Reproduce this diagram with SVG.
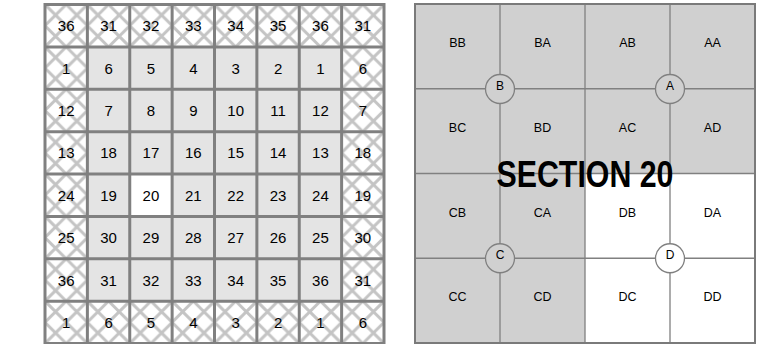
<svg xmlns="http://www.w3.org/2000/svg" width="771" height="344" viewBox="0 0 771 344">
<defs>
<pattern id="hatch" patternUnits="userSpaceOnUse" x="45" y="4.5" width="42.375" height="42.375">
<path d="M21.1875 0 L42.375 21.1875 L21.1875 42.375 L0 21.1875 Z M0 0 L42.375 42.375 M42.375 0 L0 42.375" fill="none" stroke="#c4c4c4" stroke-width="3"/>
</pattern>
<style>
.num{font-family:"Liberation Sans",Arial,sans-serif;font-size:15px;fill:#000;text-anchor:middle}
.lbl{font-family:"Liberation Sans",Arial,sans-serif;font-size:12.5px;fill:#000;text-anchor:middle}
.cl{font-family:"Liberation Sans",Arial,sans-serif;font-size:12px;fill:#000;text-anchor:middle}
.grid{fill:none;stroke:#808080;stroke-width:3}
.pl{fill:none;stroke:#808080;stroke-width:1.3}
.circ{stroke:#808080;stroke-width:1.3}
</style>
</defs>
<rect width="771" height="344" fill="#fff"/>
<g id="township">
<rect x="45" y="4.5" width="339" height="339" fill="#fff"/>
<rect x="45" y="4.5" width="339" height="339" fill="url(#hatch)"/>
<rect x="87.375" y="46.875" width="254.25" height="254.25" fill="#e4e4e4"/>
<rect x="129.75" y="174" width="42.375" height="42.375" fill="#fff"/>
<path class="grid" d="M45 4.5H384V343.5H45Z M87.375 4.5V343.5 M129.75 4.5V343.5 M172.125 4.5V343.5 M214.5 4.5V343.5 M256.875 4.5V343.5 M299.25 4.5V343.5 M341.625 4.5V343.5 M45 46.875H384 M45 89.25H384 M45 131.625H384 M45 174H384 M45 216.375H384 M45 258.75H384 M45 301.125H384"/>
<g id="numbers">
<text class="num" y="31.2"><tspan x="66.19">36</tspan><tspan x="108.56">31</tspan><tspan x="150.94">32</tspan><tspan x="193.31">33</tspan><tspan x="235.69">34</tspan><tspan x="278.06">35</tspan><tspan x="320.44">36</tspan><tspan x="362.81">31</tspan></text>
<text class="num" y="73.6"><tspan x="66.19">1</tspan><tspan x="108.56">6</tspan><tspan x="150.94">5</tspan><tspan x="193.31">4</tspan><tspan x="235.69">3</tspan><tspan x="278.06">2</tspan><tspan x="320.44">1</tspan><tspan x="362.81">6</tspan></text>
<text class="num" y="116"><tspan x="66.19">12</tspan><tspan x="108.56">7</tspan><tspan x="150.94">8</tspan><tspan x="193.31">9</tspan><tspan x="235.69">10</tspan><tspan x="278.06">11</tspan><tspan x="320.44">12</tspan><tspan x="362.81">7</tspan></text>
<text class="num" y="158.3"><tspan x="66.19">13</tspan><tspan x="108.56">18</tspan><tspan x="150.94">17</tspan><tspan x="193.31">16</tspan><tspan x="235.69">15</tspan><tspan x="278.06">14</tspan><tspan x="320.44">13</tspan><tspan x="362.81">18</tspan></text>
<text class="num" y="200.7"><tspan x="66.19">24</tspan><tspan x="108.56">19</tspan><tspan x="150.94">20</tspan><tspan x="193.31">21</tspan><tspan x="235.69">22</tspan><tspan x="278.06">23</tspan><tspan x="320.44">24</tspan><tspan x="362.81">19</tspan></text>
<text class="num" y="243.1"><tspan x="66.19">25</tspan><tspan x="108.56">30</tspan><tspan x="150.94">29</tspan><tspan x="193.31">28</tspan><tspan x="235.69">27</tspan><tspan x="278.06">26</tspan><tspan x="320.44">25</tspan><tspan x="362.81">30</tspan></text>
<text class="num" y="285.5"><tspan x="66.19">36</tspan><tspan x="108.56">31</tspan><tspan x="150.94">32</tspan><tspan x="193.31">33</tspan><tspan x="235.69">34</tspan><tspan x="278.06">35</tspan><tspan x="320.44">36</tspan><tspan x="362.81">31</tspan></text>
<text class="num" y="327.8"><tspan x="66.19">1</tspan><tspan x="108.56">6</tspan><tspan x="150.94">5</tspan><tspan x="193.31">4</tspan><tspan x="235.69">3</tspan><tspan x="278.06">2</tspan><tspan x="320.44">1</tspan><tspan x="362.81">6</tspan></text>
</g>
</g>
<g id="section">
<rect x="415" y="4" width="340" height="339" fill="#d0d0d0"/>
<rect x="585" y="173.5" width="170" height="169.5" fill="#fff"/>
<path class="pl" d="M500 4V343 M585 4V343 M670 4V343 M415 88.75H755 M415 173.5H755 M415 258.25H755"/>
<rect x="415" y="4" width="340" height="339" fill="none" stroke="#7a7a7a" stroke-width="2"/>
<g id="labels">
<text class="lbl" y="47"><tspan x="457.5">BB</tspan><tspan x="542.5">BA</tspan><tspan x="627.5">AB</tspan><tspan x="712.5">AA</tspan></text>
<text class="lbl" y="131.8"><tspan x="457.5">BC</tspan><tspan x="542.5">BD</tspan><tspan x="627.5">AC</tspan><tspan x="712.5">AD</tspan></text>
<text class="lbl" y="216.5"><tspan x="457.5">CB</tspan><tspan x="542.5">CA</tspan><tspan x="627.5">DB</tspan><tspan x="712.5">DA</tspan></text>
<text class="lbl" y="301.3"><tspan x="457.5">CC</tspan><tspan x="542.5">CD</tspan><tspan x="627.5">DC</tspan><tspan x="712.5">DD</tspan></text>
</g>
<g id="circle-B"><circle class="circ" cx="500" cy="89" r="14.5" fill="#d0d0d0"/><text class="cl" x="500" y="90">B</text></g>
<g id="circle-A"><circle class="circ" cx="670" cy="89" r="14.5" fill="#d0d0d0"/><text class="cl" x="670" y="90">A</text></g>
<g id="circle-C"><circle class="circ" cx="500" cy="258.25" r="14.5" fill="#d0d0d0"/><text class="cl" x="500" y="259.3">C</text></g>
<g id="circle-D"><circle class="circ" cx="670" cy="258.25" r="14.5" fill="#fff"/><text class="cl" x="670" y="259.3">D</text></g>
<text x="585" y="187" font-family="'Liberation Sans',Arial,sans-serif" font-size="37" font-weight="bold" text-anchor="middle" textLength="177" lengthAdjust="spacingAndGlyphs" fill="#000">SECTION 20</text>
</g>
</svg>
